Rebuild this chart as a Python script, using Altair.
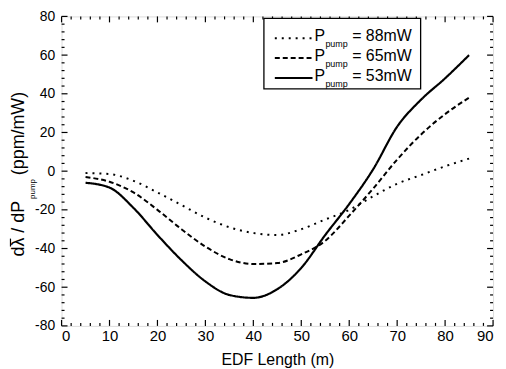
import altair as alt
import pandas as pd

# ---- data ----
length_m = [5, 10, 15, 20, 25, 30, 35, 40, 45, 50, 55, 60, 65, 70, 75, 80, 85]
p88 = [-1, -1.5, -5, -11, -17.5, -24, -29, -32, -33, -30, -25, -20, -13, -6.5, -2, 2.5, 6.5]
p65 = [-3, -5.5, -11, -20, -30, -39, -45.5, -48, -47.5, -43, -36, -23, -9, 6, 19, 29.5, 38]
p53 = [-6, -8.5, -19, -33, -46, -57, -64, -65.5, -61, -50, -33, -17, 1, 23, 37, 48, 60]
series_names = ["88mW", "65mW", "53mW"]
series_dash = {"88mW": [2, 5], "65mW": [5, 3], "53mW": [1, 0]}

x_major = list(range(0, 91, 10))
x_minor = [v for v in range(0, 91, 2) if v % 10 != 0]
y_major = list(range(-80, 81, 20))
y_minor = [v for v in range(-80, 81, 4) if v % 20 != 0]

W, H = 435, 312
FONT = "Liberation Sans"

rows = []
for name, vals in zip(series_names, [p88, p65, p53]):
    for x, y in zip(length_m, vals):
        rows.append({"x": x, "y": y, "series": name})
df = pd.DataFrame(rows)

xs = alt.Scale(domain=[0, 90], nice=False, zero=False)
ys = alt.Scale(domain=[-80, 80], nice=False, zero=False)

x_axis = alt.Axis(values=x_major, ticks=False, domain=False, grid=False,
                  labelFont=FONT, labelFontSize=15, labelColor="black",
                  labelPadding=3, labelOverlap=False,
                  title="EDF Length  (m)",
                  titleFont=FONT, titleFontSize=16, titleFontWeight="normal",
                  titleColor="black", titlePadding=8)
y_axis = alt.Axis(values=y_major, ticks=False, domain=False, grid=False,
                  labelFont=FONT, labelFontSize=14, labelColor="black",
                  labelPadding=7, labelOverlap=False, title=None,
                  labelExpr="'' + datum.value")

lines = []
for name, vals in zip(series_names, [p88, p65, p53]):
    d = df[df.series == name]
    lines.append(
        alt.Chart(d).mark_line(color="black", strokeWidth=2 if name != "53mW" else 2.2,
                               strokeDash=series_dash[name], interpolate="monotone").encode(
            x=alt.X("x:Q", scale=xs, axis=x_axis), y=alt.Y("y:Q", scale=ys, axis=y_axis))
    )

def xticks(vals, length):
    d = pd.DataFrame({"x": vals})
    bot = alt.Chart(d).mark_rule(color="black", strokeWidth=1.2).encode(
        x=alt.X("x:Q", scale=xs, axis=x_axis), y=alt.value(H), y2=alt.value(H - length))
    top = alt.Chart(d).mark_rule(color="black", strokeWidth=1.2).encode(
        x=alt.X("x:Q", scale=xs, axis=x_axis), y=alt.value(0), y2=alt.value(length))
    return [bot, top]

def yticks(vals, length):
    d = pd.DataFrame({"y": vals})
    left = alt.Chart(d).mark_rule(color="black", strokeWidth=1.2).encode(
        y=alt.Y("y:Q", scale=ys, axis=y_axis), x=alt.value(0), x2=alt.value(length))
    right = alt.Chart(d).mark_rule(color="black", strokeWidth=1.2).encode(
        y=alt.Y("y:Q", scale=ys, axis=y_axis), x=alt.value(W), x2=alt.value(W - length))
    return [left, right]

ticks = xticks(x_major, 6) + xticks(x_minor, 3) + yticks(y_major, 6) + yticks(y_minor, 3)

# ---- legend ----
one = pd.DataFrame({"a": [0]})
legend = [
    alt.Chart(one).mark_rect(fill="white", stroke="black", strokeWidth=1.3).encode(
        x=alt.value(204), x2=alt.value(362), y=alt.value(2), y2=alt.value(73))
]
for i, name in enumerate(series_names):
    base_y = 25 + 20 * i
    legend.append(alt.Chart(one).mark_rule(color="black", strokeWidth=2,
                                           strokeDash=series_dash[name]).encode(
        x=alt.value(215), x2=alt.value(253), y=alt.value(base_y - 3), y2=alt.value(base_y - 3)))
    legend.append(alt.Chart(one).mark_text(text="P", font=FONT, fontSize=16, align="left",
                                           baseline="alphabetic", color="black").encode(
        x=alt.value(255), y=alt.value(base_y)))
    legend.append(alt.Chart(one).mark_text(text="pump", font=FONT, fontSize=9, align="left",
                                           baseline="alphabetic", color="black").encode(
        x=alt.value(266), y=alt.value(base_y + 6)))
    legend.append(alt.Chart(one).mark_text(text="= " + name, font=FONT, fontSize=16, align="left",
                                           baseline="alphabetic", color="black").encode(
        x=alt.value(293), y=alt.value(base_y)))

# ---- y title ----
ytitle = [
    alt.Chart(one).mark_text(text="d\u03bb  /  dP", font=FONT, fontSize=18, angle=270,
                             align="right", baseline="middle", color="black").encode(
        x=alt.value(-43), y=alt.value(186)),
    alt.Chart(one).mark_rule(color="black", strokeWidth=1.2).encode(
        x=alt.value(-51.5), x2=alt.value(-51.5), y=alt.value(224), y2=alt.value(232)),
    alt.Chart(one).mark_text(text="pump", font=FONT, fontSize=8, angle=270,
                             align="left", baseline="middle", color="black").encode(
        x=alt.value(-29), y=alt.value(184)),
    alt.Chart(one).mark_text(text="(ppm/mW)", font=FONT, fontSize=18, angle=270,
                             align="left", baseline="middle", color="black").encode(
        x=alt.value(-43), y=alt.value(160)),
]

chart = alt.layer(*lines, *ticks, *legend, *ytitle).properties(
    width=W, height=H,
    autosize=alt.AutoSizeParams(type="none"),
    padding={"left": 54, "top": 7, "right": 5, "bottom": 46},
).configure_view(stroke="black", strokeWidth=1.6).configure_axis(
    labelOverlap=False
).configure(background="white")

chart.save("out.html", embed_options={"renderer": "svg", "actions": False})
